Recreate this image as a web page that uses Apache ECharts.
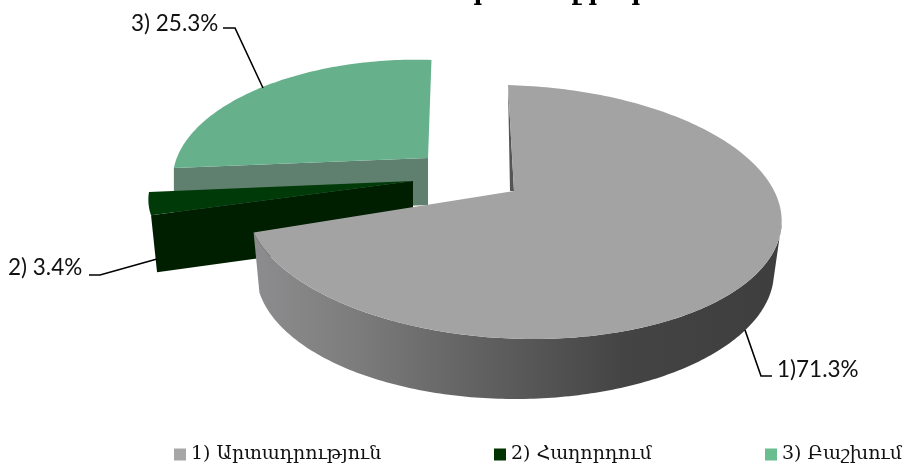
<!DOCTYPE html>
<html><head><meta charset="utf-8">
<style>html,body{margin:0;padding:0;background:#fff}#c{width:907px;height:470px}</style>
<script src="https://cdn.jsdelivr.net/npm/echarts@6/dist/echarts.min.js"></script>
</head><body><div id="c"></div>
<script>
const categories = ['1) Արտադրություն', '2) Հաղորդում', '3) Բաշխում'];
const shares = [71.3, 3.4, 25.3];
const labels = ['1)71.3%', '2) 3.4%', '3) 25.3%'];
const titleGlyphs = ['ր', 'ղ', 'ր', 'ր'];

// Drawing set-up (not data): how each exploded slice sits in the tilted view
const START = 4;
const views = [
  {apex:[514,191], corner:[508,85], ex:514, ey:212, rx:267, ry:127, shear:0.15, bx:515, by:272, brx:259, bry:127},
  {apex:[413,181], ex:410.4, ey:197.5, rx:262, ry:110, shear:-0.046},
  {apex:[428,158], ex:404, ey:173.7, rx:231, ry:114, shear:-0.1}
];
const leaders = [
  {pts:[[745,330],[761,376],[772,376]], text:[777,370]},
  {pts:[[89,275],[100,275],[157,259]], text:[8,268]},
  {pts:[[223,28],[235,28],[263,88]], text:[131,24]}
];
const legendLefts = [174, 494, 765];
const titleX = [482, 571, 597, 640];

const total = shares.reduce((a,b)=>a+b,0);
function range(i){
  let s=0; for(let k=0;k<i;k++) s+=shares[k];
  return [START+s/total*360, START+(s+shares[i])/total*360];
}
function pt(v,deg){
  const r=deg*Math.PI/180, dy=-v.ry*Math.cos(r);
  return [v.ex+v.rx*Math.sin(r)+v.shear*dy, v.ey+dy];
}
function ptB(v,deg){
  const r=deg*Math.PI/180;
  return [v.bx+v.brx*Math.sin(r), v.by-v.bry*Math.cos(r)];
}
function arc(fn,v,a,b){
  const out=[], n=Math.max(8,Math.ceil(Math.abs(b-a)));
  for(let i=0;i<=n;i++) out.push(fn(v,a+(b-a)*i/n));
  return out;
}
function poly(points,fill,z2){
  return {type:'polygon',shape:{points},style:{fill},z2:z2||0,silent:true};
}
function leader(i){
  const L=leaders[i];
  return [
    {type:'polyline',shape:{points:L.pts},style:{stroke:'#000',lineWidth:1.6,fill:null},z2:20,silent:true},
    {type:'text',x:L.text[0],y:L.text[1],style:{text:labels[i],font:'22.5px Lato',fill:'#111',textVerticalAlign:'middle',textAlign:'left'},z2:21,silent:true}
  ];
}
function LG(x1,x2,stops){
  return new echarts.graphic.LinearGradient(x1,0,x2,0,stops.map(c=>({offset:c[0],color:c[1]})),true);
}
function renderSlice(params){
  const i=params.seriesIndex, v=views[i], [a,b]=range(i);
  const kids=[];
  if(i===0){
    const top=arc(pt,v,95,b), bot=arc(ptB,v,b,95);
    kids.push(poly(top.concat(bot),LG(258,780,[[0,'#8c8c8e'],[0.17,'#7e7e7e'],[0.38,'#666666'],[0.7,'#444444'],[1,'#3e3e3e']]),1));
    kids.push(poly([v.corner,v.apex,[v.apex[0]-4,v.apex[1]]],'#555555',2));
    kids.push(poly([v.apex,v.corner].concat(arc(pt,v,a,b)),'#a3a3a3',3));
  } else if(i===1){
    const arcPts=arc(pt,v,a,b), front=arcPts[0];
    kids.push(poly([front,v.apex,[v.apex[0],v.apex[1]+56],[front[0]+6,front[1]+57]],'#001e00',1));
    kids.push(poly([v.apex].concat(arcPts),'#003a08',2));
  } else {
    const arcPts=arc(pt,v,a,b), left=arcPts[0];
    kids.push(poly([left,v.apex,[v.apex[0],v.apex[1]+47],[left[0],left[1]+47]],'#5f7f6f',1));
    kids.push(poly([v.apex].concat(arcPts),'#66b08c',2));
  }
  return {type:'group',children:kids.concat(leader(i))};
}
const colors=['#a6a6a6','#003300','#69bd8f'];
const chart=echarts.init(document.getElementById('c'),null,{renderer:'canvas'});
chart.setOption({
  animation:false,
  backgroundColor:'#fff',
  graphic:titleGlyphs.map((g,i)=>({type:'text',x:titleX[i],y:-18,style:{text:g,font:'bold 24px "DejaVu Serif"',fill:'#000',textAlign:'center'}})),
  legend:categories.map((c,i)=>({
    data:[c],left:legendLefts[i],top:445,padding:0,icon:'rect',itemWidth:12,itemHeight:12,itemGap:7,selectedMode:false,
    textStyle:{fontFamily:'DejaVu Serif',fontSize:19,color:'#111'}
  })),
  series:categories.map((c,i)=>({
    type:'custom',name:c,coordinateSystem:'none',z:3-i,silent:true,
    itemStyle:{color:colors[i]},
    data:[[shares[i]]],
    renderItem:renderSlice
  }))
});
</script></body></html>
